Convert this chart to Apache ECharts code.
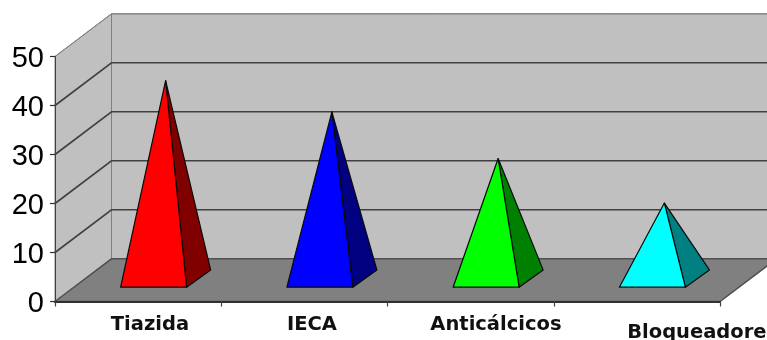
<!DOCTYPE html>
<html lang="es">
<head>
	<meta charset="UTF-8">
	<title>Pyramids</title>
	<script src="https://cdn.jsdelivr.net/npm/echarts@6/dist/echarts.min.js"></script>
	<style>html, body { margin: 0; background: #fff; overflow: hidden; }</style>
</head>
<body>
	<div id="chart" style="width: 767px; height: 340px;"></div>
	<script type="text/javascript">
		// values
		const categories = ['Tiazida', 'IECA', 'Anticálcicos', 'Bloqueadore'];
		const values = [40.4, 34, 24.5, 15.4];
		const gridValues = [10, 20, 30, 40, 50];
		const frontColors = ['#ff0000', '#0000ff', '#00ff00', '#00ffff'];
		const sideColors = ['#800000', '#000080', '#008000', '#008080'];

		// fake 3d depth, in pixels
		const depth = [56.5, -42.7];
		const baseFront = [15.5, -14.3];
		const baseSide = [24, -17.3];
		const baseRatio = 0.397;
		const labelShift = [[11.8, 23], [7.6, 23], [25.3, 23], [60, 31]];
		const edge = { stroke: '#0a0a0a', lineWidth: 1.2, lineJoin: 'round' };

		function renderWalls(params, api) {
			const r = params.coordSys;
			const x0 = r.x, x1 = r.x + r.width, y0 = r.y, y1 = r.y + r.height;
			const dx = depth[0], dy = depth[1];
			const wall = { fill: '#c0c0c0', stroke: '#808080', lineWidth: 1 };
			return {
				type: 'group',
				children: [
					{ type: 'polygon', shape: { points: [[x0 + dx, y0 + dy], [x1 + dx, y0 + dy], [x1 + dx, y1 + dy], [x0 + dx, y1 + dy]] }, style: wall },
					{ type: 'polygon', shape: { points: [[x0, y0], [x0 + dx, y0 + dy], [x0 + dx, y1 + dy], [x0, y1]] }, style: wall },
					{ type: 'polygon', shape: { points: [[x0, y1], [x0 + dx, y1 + dy], [x1 + dx, y1 + dy], [x1, y1]] }, style: { fill: '#808080', stroke: '#505050', lineWidth: 1.5 } }
				]
			};
		}

		function renderGridLine(params, api) {
			const r = params.coordSys;
			const v = api.value(1);
			const p = api.coord([0, v]);
			const dx = depth[0], dy = depth[1];
			const top = v === 50;
			return {
				type: 'polyline',
				shape: { points: [[r.x, p[1]], [r.x + dx, p[1] + dy], [r.x + r.width + dx, p[1] + dy]] },
				style: { fill: 'none', stroke: top ? '#808080' : '#404040', lineWidth: top ? 1 : 1.6 }
			};
		}

		function renderPyramid(params, api) {
			const i = api.value(0);
			const base = api.coord([i, 0]);
			const tip = api.coord([i, api.value(1)]);
			const half = api.size([1, 0])[0] * baseRatio / 2;
			const fl = [base[0] + baseFront[0] - half, base[1] + baseFront[1]];
			const fr = [base[0] + baseFront[0] + half, base[1] + baseFront[1]];
			const br = [fr[0] + baseSide[0], fr[1] + baseSide[1]];
			// tip stands over the middle of the base square
			const apex = [(fl[0] + br[0]) / 2, tip[1] + (fl[1] + br[1]) / 2 - base[1]];
			return {
				type: 'group',
				children: [
					{ type: 'polygon', shape: { points: [apex, fr, br] }, style: Object.assign({ fill: sideColors[i] }, edge) },
					{ type: 'polygon', shape: { points: [apex, fl, fr] }, style: Object.assign({ fill: frontColors[i] }, edge) }
				]
			};
		}

		function renderLabel(params, api) {
			const i = api.value(0);
			const p = api.coord([i, 0]);
			return {
				type: 'text',
				x: p[0] + labelShift[i][0],
				y: p[1] + labelShift[i][1],
				style: {
					text: categories[i],
					fontFamily: 'DejaVu Sans',
					fontWeight: 'bold',
					fontSize: 19.5,
					fill: '#111',
					align: 'center',
					verticalAlign: 'middle'
				}
			};
		}

		const chart = echarts.init(document.getElementById('chart'), null, { renderer: 'canvas' });
		chart.setOption({
			animation: false,
			backgroundColor: '#ffffff',
			grid: { left: 55, right: 47, top: 56.5, bottom: 38.5 },
			xAxis: {
				type: 'category',
				data: categories,
				z: 10,
				axisLine: { lineStyle: { color: '#303030', width: 2 } },
				axisTick: { show: true, length: 5, lineStyle: { color: '#404040', width: 1.2 } },
				axisLabel: { show: false }
			},
			yAxis: {
				type: 'value',
				min: 0,
				max: 50,
				interval: 10,
				z: 10,
				splitLine: { show: false },
				axisLine: { show: true, lineStyle: { color: '#404040', width: 1 } },
				axisTick: { show: true, length: 5, lineStyle: { color: '#303030', width: 1.2 } },
				axisLabel: {
					margin: 11,
					formatter: '{n|{value}}',
					rich: { n: { fontFamily: 'Liberation Sans', fontSize: 29, color: '#000', padding: [5, 0, 0, 0] } }
				}
			},
			series: [
				{ type: 'custom', silent: true, renderItem: renderWalls, encode: { x: 0, y: 1 }, data: [[0, 0]] },
				{ type: 'custom', silent: true, renderItem: renderGridLine, encode: { x: 0, y: 1 }, data: gridValues.map(v => [0, v]) },
				{ type: 'custom', silent: true, renderItem: renderPyramid, encode: { x: 0, y: 1 }, data: values.map((v, i) => [i, v]) },
				{ type: 'custom', silent: true, renderItem: renderLabel, encode: { x: 0, y: 1 }, data: categories.map((c, i) => [i, 0]) }
			]
		});
	</script>
</body>
</html>
